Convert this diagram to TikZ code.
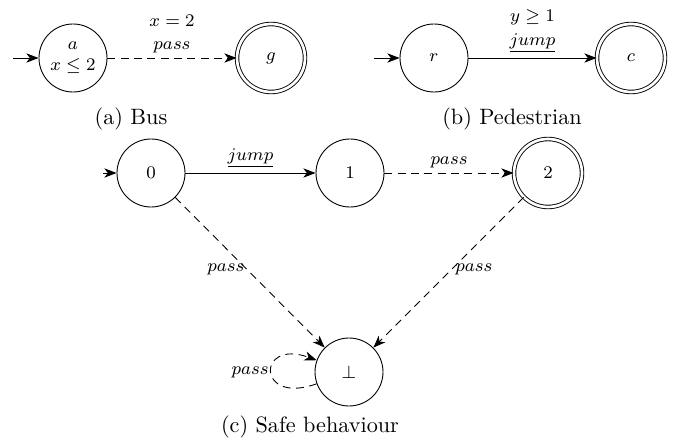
\documentclass[tikz,border=0pt]{standalone}
\usetikzlibrary{arrows.meta}
\begin{document}
\begin{tikzpicture}[x=0.45pt,y=-0.45pt,
  >={Stealth[length=5.5pt,width=4.2pt,inset=1.6pt]},
  state/.style={circle,draw,minimum size=30.6pt,inner sep=0pt,font=\footnotesize,align=center},
  accept/.style={state,double,double distance=1.2pt},
  lbl/.style={font=\footnotesize,inner sep=2pt},
  trans/.style={->},
  dtrans/.style={->,dashed,dash pattern=on 3.5pt off 2.5pt},
  captxt/.style={font=\normalsize}]
\useasboundingbox (0,0) rectangle (676,444);
% (a) Bus
\node[state] (a) at (73,58) {$a$\\$x\leq 2$};
\node[accept] (g) at (271,58) {$g$};
\coordinate (ia) at (13,58);
\draw[trans] (ia) -- (a);
\draw[dtrans] (a) -- node[lbl,above,align=center] {$x=2$\\[1pt]$pass$} (g);
\node[captxt] (capa) at (131,119) {(a) Bus};
% (b) Pedestrian
\node[state] (r) at (434,58) {$r$};
\node[accept] (c) at (631,58) {$c$};
\coordinate (ir) at (374,58);
\draw[trans] (ir) -- (r);
\draw[trans] (r) -- node[lbl,above,align=center] {$y\geq 1$\\[1pt]$\underline{jump}$} (c);
\node[captxt] (capb) at (512,119) {(b) Pedestrian};
% (c) Safe behaviour
\node[state] (s0) at (151,173) {$0$};
\node[state] (s1) at (350,173) {$1$};
\node[accept] (s2) at (548,173) {$2$};
\node[state] (bot) at (349,372) {$\bot$};
\coordinate (i0) at (103,173);
\draw[trans] (i0) -- (s0);
\draw[trans] (s0) -- node[lbl,above] {$\underline{jump}$} (s1);
\draw[dtrans] (s1) -- node[lbl,above] {$pass$} (s2);
\draw[dtrans] (s0) -- node[lbl,left,inner sep=1pt,pos=0.48] {$pass$} (bot);
\draw[dtrans] (s2) -- node[lbl,right,inner sep=1.5pt,pos=0.48] {$pass$} (bot);
\draw[dtrans] (bot) to[out=200,in=160,looseness=7] node[lbl,left,inner sep=1pt] {$pass$} (bot);
\node[captxt] (capc) at (310,427) {(c) Safe behaviour};
\end{tikzpicture}
\end{document}
